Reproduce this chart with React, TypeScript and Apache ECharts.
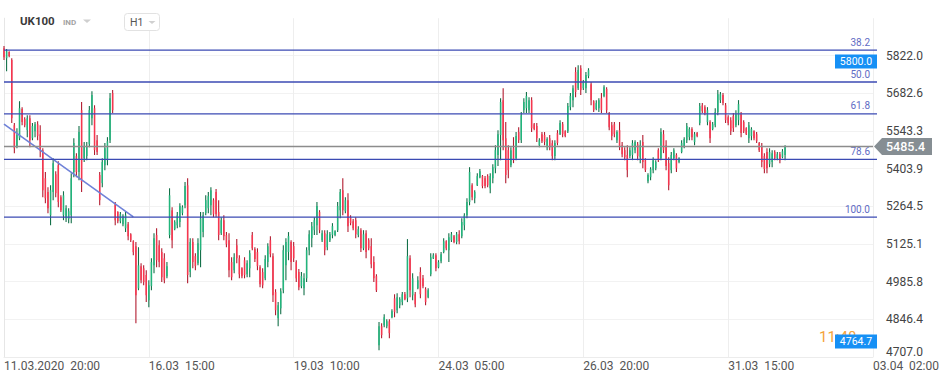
import React, { useEffect, useRef } from 'react';
import * as echarts from 'echarts';

// ---- data ----
const xLabels = ['11.03.2020  20:00', '16.03  15:00', '19.03  10:00', '24.03  05:00', '26.03  20:00', '31.03  15:00', '03.04  02:00'];
const xTickIndex = [0, 56, 112, 168, 224, 280, 336];
const yTicks = [4707.0, 4846.4, 4985.8, 5125.1, 5264.5, 5403.9, 5543.3, 5682.6, 5822.0];

// hourly candles: [open, close, low, high]
const candles: number[][] = [
  [5849,5816,5805,5857],[5812,5838,5764,5846],[5835,5820,5816,5838],[5805,5590,5572,5812],[5564,5479,5461,5572],[5487,5528,5479,5553],
  [5516,5627,5509,5653],[5624,5576,5564,5631],[5587,5564,5557,5594],[5546,5590,5520,5601],[5590,5509,5483,5601],
  [5516,5561,5509,5572],[5542,5568,5520,5576],[5568,5524,5509,5579],[5531,5472,5446,5564],[5472,5324,5298,5479],
  [5368,5294,5276,5391],[5317,5257,5239,5335],[5231,5324,5194,5342],[5317,5424,5287,5442],[5383,5313,5298,5394],
  [5416,5280,5261,5431],[5298,5250,5243,5305],[5231,5305,5213,5320],[5220,5257,5206,5268],[5217,5246,5202,5257],[5231,5368,5202,5387],
  [5391,5498,5372,5516],[5450,5391,5372,5461],[5391,5539,5361,5561],[5620,5354,5317,5650],[5442,5487,5428,5502],
  [5450,5487,5435,5502],[5494,5620,5483,5635],[5590,5676,5564,5690],[5627,5472,5454,5638],[5509,5465,5454,5528],
  [5380,5287,5268,5391],[5350,5428,5335,5442],[5416,5479,5398,5498],[5435,5505,5416,5520],[5509,5664,5498,5683],
  [5683,5620,5609,5694],[5272,5213,5194,5280],[5243,5209,5202,5246],[5209,5235,5202,5243],[5198,5228,5191,5235],[5183,5231,5169,5243],
  [5198,5154,5139,5206],[5161,5139,5132,5165],[5135,5095,5083,5139],[5117,4935,4832,5132],[4961,5046,4954,5113],
  [5043,4991,4980,5054],[5035,4984,4972,5046],[5010,4935,4910,5028],[4917,4972,4891,4991],[4969,5058,4954,5072],
  [5046,5146,5017,5165],[5158,5065,5039,5183],[5120,5058,5039,5139],[5095,5002,4984,5109],[5072,4991,4980,5091],
  [5006,5043,4998,5058],[5158,5305,5146,5331],[5250,5139,5109,5261],[5180,5206,5176,5213],[5194,5231,5183,5243],
  [5206,5265,5187,5276],[5239,5261,5231,5268],[5268,5339,5257,5354],[5342,5010,4980,5368],[5021,5132,5002,5146],
  [5132,5058,5035,5146],[5080,5043,5028,5091],[5054,5128,5046,5146],[5102,5220,5039,5243],[5169,5231,5150,5243],
  [5239,5287,5231,5305],[5257,5302,5239,5317],[5268,5324,5231,5335],[5287,5235,5224,5294],[5317,5235,5224,5328],
  [5243,5158,5139,5287],[5165,5213,5158,5224],[5213,5154,5139,5231],[5158,5124,5113,5169],[5139,5028,5002,5165],
  [5058,5002,4991,5076],[5028,5076,5017,5091],[5120,5072,5054,5143],[5072,5013,4998,5083],[5035,5006,4998,5039],
  [5065,5010,4998,5076],[5013,5054,5002,5065],[5035,5091,5002,5102],[5158,5109,5102,5169],[5106,5069,5058,5113],
  [5095,5043,5028,5109],[5039,4976,4965,5046],[5021,4972,4961,5035],[4998,5069,4991,5083],[5058,5117,5039,5128],
  [5139,5087,5076,5154],[5080,4935,4910,5091],[4947,4880,4861,4958],[4850,4898,4821,4910],[4887,4950,4865,4961],
  [4954,5102,4943,5120],[5046,5132,4991,5146],[5095,5154,5065,5169],[5132,5058,5028,5139],[5117,5072,5058,5132],
  [5058,4998,4984,5065],[5021,4965,4954,5032],[4969,5006,4961,5021],[4961,4998,4935,5017],[4998,5102,4984,5113],
  [5102,5161,5083,5176],[5146,5191,5113,5206],[5176,5213,5158,5224],[5194,5265,5158,5280],[5243,5176,5165,5250],
  [5139,5165,5132,5176],[5165,5102,5083,5176],[5113,5161,5102,5176],[5139,5161,5132,5169],[5158,5191,5146,5202],
  [5158,5172,5154,5176],[5176,5265,5169,5280],[5250,5317,5220,5328],[5324,5250,5231,5368],[5246,5287,5239,5298],
  [5287,5191,5169,5313],[5224,5202,5194,5231],[5209,5183,5176,5217],[5213,5161,5146,5224],[5158,5180,5150,5191],
  [5176,5109,5095,5183],[5109,5161,5102,5176],[5165,5095,5072,5176],[5139,5109,5102,5146],[5117,5050,5035,5146],
  [5058,4998,4984,5080],[5006,4954,4947,5013],[4750,4821,4732,4836],[4821,4788,4776,4832],[4824,4854,4817,4865],
  [4821,4839,4813,4847],[4839,4795,4776,4847],[4854,4876,4850,4884],[4924,4873,4854,4939],[4880,4928,4869,4943],
  [4898,4921,4887,4928],[4910,4939,4898,4947],[4939,4921,4917,4947],[4924,5080,4910,5143],[5072,4954,4928,5083],
  [4935,4998,4917,5017],[4939,4902,4891,4947],[4961,4991,4958,5006],[5021,4939,4924,5039],[4998,4969,4961,5010],
  [4958,4910,4898,4965],[4928,4954,4924,4961],[5013,5076,5006,5091],[5072,5083,5069,5091],[5083,5035,5024,5091],
  [5039,5058,5035,5065],[5061,5087,5054,5095],[5095,5135,5091,5146],[5135,5109,5102,5139],[5102,5150,5058,5165],
  [5139,5161,5132,5169],[5154,5132,5128,5158],[5132,5161,5124,5169],[5161,5135,5124,5176],[5154,5206,5146,5220],
  [5194,5231,5176,5239],[5231,5280,5220,5294],[5280,5391,5268,5409],[5342,5298,5287,5350],[5294,5317,5276,5324],
  [5342,5376,5339,5387],[5372,5394,5368,5402],[5376,5339,5331,5380],[5368,5339,5331,5376],[5376,5342,5335,5383],
  [5331,5376,5313,5387],[5368,5409,5350,5420],[5405,5472,5387,5490],[5454,5531,5413,5546],[5528,5650,5435,5664],
  [5657,5509,5472,5701],[5516,5380,5350,5576],[5472,5398,5368,5490],[5416,5472,5409,5483],[5479,5435,5424,5520],
  [5442,5524,5435,5539],[5539,5509,5498,5557],[5509,5601,5498,5613],[5620,5650,5609,5664],[5627,5672,5609,5687],[5620,5657,5609,5668],
  [5657,5553,5539,5668],[5568,5550,5546,5572],[5561,5516,5502,5572],[5490,5509,5483,5516],[5531,5505,5498,5539],
  [5528,5502,5490,5539],[5483,5513,5472,5520],[5516,5483,5472,5528],[5498,5450,5435,5509],[5450,5498,5435,5509],
  [5535,5498,5490,5546],[5531,5572,5528,5583],[5568,5531,5520,5576],[5542,5524,5520,5546],[5542,5635,5535,5646],
  [5631,5672,5620,5683],[5657,5701,5631,5712],[5761,5687,5668,5779],[5701,5768,5694,5786],[5775,5694,5676,5786],
  [5701,5724,5694,5731],[5701,5750,5683,5761],[5746,5768,5738,5775],[5716,5657,5638,5724],
  [5653,5620,5613,5657],[5624,5646,5620,5657],[5627,5657,5613,5664],[5664,5620,5609,5683],[5672,5705,5668,5712],
  [5698,5620,5609,5705],[5609,5557,5546,5613],[5564,5524,5509,5576],[5568,5531,5520,5576],[5509,5539,5498,5546],
  [5546,5487,5472,5576],[5490,5457,5446,5502],[5472,5446,5435,5483],[5454,5398,5372,5490],[5450,5472,5442,5483],
  [5454,5498,5435,5509],[5472,5502,5461,5509],[5494,5450,5435,5502],[5446,5490,5424,5509],[5502,5428,5405,5528],
  [5435,5398,5391,5442],[5357,5380,5350,5387],[5372,5402,5361,5409],[5398,5435,5387,5446],[5405,5428,5398,5435],
  [5472,5435,5428,5479],[5442,5539,5435,5553],[5531,5472,5461,5546],[5490,5413,5398,5509],[5424,5342,5324,5446],
  [5398,5454,5387,5465],[5442,5472,5435,5479],[5454,5405,5391,5461],[5428,5442,5424,5446],[5465,5498,5461,5509],
  [5487,5513,5479,5520],[5509,5561,5498,5572],[5520,5550,5509,5557],[5550,5520,5509,5557],[5502,5531,5490,5539],
  [5535,5524,5520,5539],[5572,5635,5564,5646],[5638,5616,5609,5646],[5631,5609,5601,5638],[5576,5620,5564,5631],
  [5576,5516,5498,5583],[5550,5568,5546,5576],[5564,5613,5557,5627],[5613,5679,5601,5694],
  [5657,5679,5646,5687],[5676,5646,5638,5683],[5638,5583,5572,5646],[5594,5572,5564,5601],[5583,5542,5528,5594],
  [5598,5553,5539,5609],[5564,5605,5557,5620],[5583,5642,5564,5657],[5605,5535,5520,5613],[5576,5542,5535,5583],
  [5553,5531,5528,5557],[5516,5564,5498,5576],[5524,5550,5509,5557],[5542,5516,5509,5546],
  [5531,5505,5498,5539],[5498,5472,5465,5502],[5487,5428,5409,5498],[5450,5402,5387,5461],[5465,5405,5387,5479],
  [5420,5465,5409,5479],[5428,5461,5409,5472],[5465,5442,5435,5472],[5442,5457,5435,5465],
  [5457,5435,5424,5465],[5446,5468,5442,5476],[5454,5485.4,5435,5490],
];

const fibLevels = [38.2, 50.0, 61.8, 78.6, 100.0];
const fibPrices = [5842, 5724, 5606, 5438, 5224];
const markerPrices = [5800.0, 4764.7];
const lastPrice = 5485.4;
const trendLine = [[0, 5568], [50, 5225]];

const UP = '#22b57c', UP_W = '#137049', DN = '#f7364f', DN_W = '#b21c30';
const FONT = 'Roboto, "Noto Sans", sans-serif';

export default function App() {
  const ref = useRef<HTMLDivElement>(null);
  useEffect(() => {
    if (!ref.current) return;
    const chart = echarts.init(ref.current, undefined, { renderer: 'svg' });
    const candleData = candles.map((c, i) => [i, c[0], c[1], c[2], c[3]]);
    const blueGrad = () => new echarts.graphic.LinearGradient(0, 0, 1, 0, [
      { offset: 0, color: '#1a8cf0' },
      { offset: 0.2, color: '#4aa8f4' },
      { offset: 0.55, color: '#7cc0f7' },
      { offset: 0.85, color: '#3a9cf2' },
      { offset: 1, color: '#1a8cf0' },
    ]);
    const option: any = {
      animation: false,
      backgroundColor: '#ffffff',
      grid: { left: 4, right: 72, top: 18.2, bottom: 26 },
      xAxis: {
        type: 'value', min: 0, max: 336, interval: 56,
        axisLine: { show: true, lineStyle: { color: '#ececec' } },
        axisTick: { show: false },
        splitLine: { show: true, lineStyle: { color: '#eeeeee', width: 1 } },
        axisLabel: {
          color: '#555', fontSize: 12, fontFamily: FONT, align: 'left', margin: 3,
          formatter: (v: number) => { const k = xTickIndex.indexOf(v); return k >= 0 ? xLabels[k] : ''; },
        },
      },
      yAxis: {
        type: 'value', position: 'right', min: 4707, max: 5960, scale: true,
        axisLine: { show: true, lineStyle: { color: '#e6e6e6' } },
        axisTick: { show: false, customValues: yTicks },
        splitLine: { show: true, lineStyle: { color: '#f2f2f2', width: 1 } },
        axisLabel: {
          customValues: yTicks,
          color: '#444', fontSize: 12, fontFamily: FONT, margin: 13,
          formatter: (v: number) => (Math.abs(v - yTicks[0]) < 0.01 ? '{lo|' + v.toFixed(1) + '}' : v.toFixed(1)),
          rich: { lo: { color: '#444', fontSize: 12, fontFamily: FONT, padding: [0, 0, 11, 0] } },
        },
      },
      series: [
        {
          type: 'custom', name: 'UK100', data: candleData, z: 3, silent: true,
          encode: { x: 0, y: [1, 2, 3, 4] },
          renderItem: (params: any, api: any) => {
            const i = api.value(0);
            const o = api.value(1), c = api.value(2), l = api.value(3), h = api.value(4);
            const po = api.coord([i, o]), pc = api.coord([i, c]), pl = api.coord([i, l]), ph = api.coord([i, h]);
            const up = c >= o;
            const x = po[0];
            const top = Math.min(po[1], pc[1]);
            const hgt = Math.max(1, Math.abs(po[1] - pc[1]));
            return {
              type: 'group',
              children: [
                { type: 'line', shape: { x1: x, y1: ph[1], x2: x, y2: pl[1] }, style: { stroke: up ? UP_W : DN_W, lineWidth: 1.1 } },
                { type: 'rect', shape: { x: x - 0.75, y: top, width: 1.5, height: hgt }, style: { fill: up ? UP : DN } },
              ],
            };
          },
        },
        {
          type: 'line', name: 'trend', data: trendLine, showSymbol: false, symbol: 'none', silent: true, z: 4,
          lineStyle: { color: '#6f82d8', width: 1.6 },
        },
        {
          type: 'custom', name: 'fib', silent: true, z: 5,
          data: fibPrices.map((p, i) => [0, p, fibLevels[i]]),
          encode: { x: 0, y: 1 },
          renderItem: (params: any, api: any) => {
            const y = api.coord([0, api.value(1)])[1];
            const cs = params.coordSys;
            return {
              type: 'group',
              children: [
                { type: 'line', shape: { x1: cs.x, y1: y, x2: cs.x + cs.width + 4, y2: y }, style: { stroke: '#3b4ab3', lineWidth: 1.3 } },
                {
                  type: 'text', x: cs.x + cs.width - 3, y: y - 3,
                  style: { text: Number(api.value(2)).toFixed(1), fill: '#5f6cc4', fontSize: 10, fontFamily: FONT, align: 'right', verticalAlign: 'bottom' },
                },
              ],
            };
          },
        },
        {
          type: 'custom', name: 'last', silent: true, z: 6,
          data: [[0, lastPrice]],
          encode: { x: 0, y: 1 },
          renderItem: (params: any, api: any) => {
            const y = api.coord([0, api.value(1)])[1];
            const cs = params.coordSys;
            const r = cs.x + cs.width;
            return {
              type: 'group',
              children: [
                { type: 'line', shape: { x1: cs.x, y1: y, x2: r, y2: y }, style: { stroke: '#8c8c8c', lineWidth: 1.5 } },
                { type: 'polygon', shape: { points: [[r + 1, y], [r + 9, y - 8.5], [r + 59, y - 8.5], [r + 59, y + 8.5], [r + 9, y + 8.5]] }, style: { fill: '#868e93' } },
                {
                  type: 'text', x: r + 13, y: y,
                  style: { text: Number(api.value(1)).toFixed(1), fill: '#ffffff', fontSize: 12.5, fontWeight: 500, fontFamily: FONT, align: 'left', verticalAlign: 'middle' },
                },
              ],
            };
          },
        },
        {
          type: 'custom', name: 'markers', silent: true, z: 7,
          data: markerPrices.map((p) => [0, p]),
          encode: { x: 0, y: 1 },
          renderItem: (params: any, api: any) => {
            const y = api.coord([0, api.value(1)])[1];
            const cs = params.coordSys;
            const r = cs.x + cs.width + 4;
            return {
              type: 'group',
              children: [
                { type: 'line', shape: { x1: cs.x, y1: y, x2: r, y2: y }, style: { stroke: blueGrad(), lineWidth: 1.6 } },
                { type: 'rect', shape: { x: r - 42, y: y - 7, width: 42, height: 14 }, style: { fill: '#1690f5' } },
                {
                  type: 'text', x: r - 21, y: y,
                  style: { text: Number(api.value(1)).toFixed(1), fill: '#ffffff', fontSize: 10.5, fontFamily: FONT, align: 'center', verticalAlign: 'middle' },
                },
              ],
            };
          },
        },
      ],
      graphic: [
        { type: 'text', z: 1, left: 819, top: 329, style: { text: '11:48', fill: '#f5a33b', fontSize: 15, fontFamily: FONT } },
        { type: 'text', z: 10, left: 20, top: 15, style: { text: 'UK100', fill: '#3a3a3a', fontSize: 11.5, fontWeight: 'bold', fontFamily: FONT } },
        { type: 'text', z: 10, left: 63, top: 18, style: { text: 'IND', fill: '#a3a3a3', fontSize: 8, fontWeight: 'bold', fontFamily: FONT } },
        { type: 'polygon', z: 10, shape: { points: [[83, 19.5], [91, 19.5], [87, 23]] }, style: { fill: '#cfcfcf' } },
        { type: 'rect', z: 10, shape: { x: 124.5, y: 13.5, width: 35, height: 17, r: 3 }, style: { fill: '#ffffff', stroke: '#e2e2e2', lineWidth: 1 } },
        { type: 'text', z: 11, left: 130, top: 17, style: { text: 'H1', fill: '#555', fontSize: 10.5, fontFamily: FONT } },
        { type: 'polygon', z: 11, shape: { points: [[148.5, 21], [155.5, 21], [152, 24]] }, style: { fill: '#d0d0d0' } },
      ],
    };
    chart.setOption(option);
    return () => chart.dispose();
  }, []);
  return <div ref={ref} style={{ position: 'fixed', left: 0, top: 0, width: 945, height: 383, background: '#fff' }} />;
}
